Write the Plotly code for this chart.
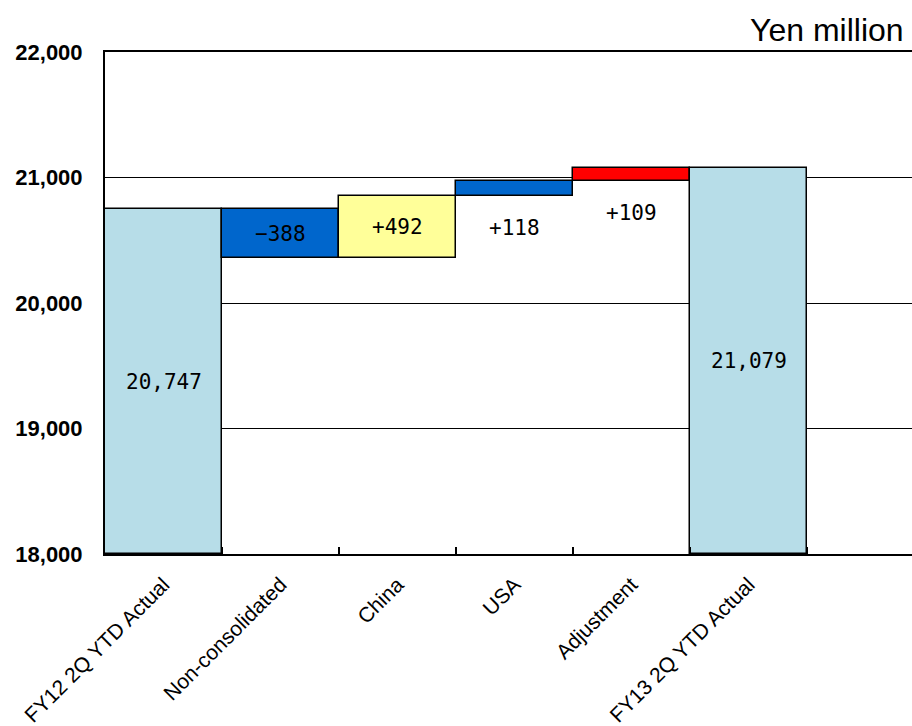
import plotly.graph_objects as go

categories = ["FY12 2Q YTD Actual", "Non-consolidated", "China", "USA", "Adjustment", "FY13 2Q YTD Actual"]
values = [20747, -388, 492, 118, 109, 21079]
is_total = [True, False, False, False, False, True]
labels = ["20,747", "\u2212388", "+492", "+118", "+109", "21,079"]
colors = ["#b7dde8", "#0066cc", "#ffff99", "#0066cc", "#ff0000", "#b7dde8"]
label_inside = [True, True, True, False, False, True]
y_ticks = [18000, 19000, 20000, 21000, 22000]
unit_label = "Yen million"
axis_min = 18000

bases, heights = [], []
running = 0
for v, tot in zip(values, is_total):
    if tot:
        bases.append(axis_min)
        heights.append(v - axis_min)
        running = v
    else:
        lo = min(running, running + v)
        bases.append(lo)
        heights.append(abs(v))
        running += v

fig = go.Figure()
fig.add_trace(go.Bar(
    x=categories, y=heights, base=bases, width=1.0,
    marker=dict(color=colors, line=dict(color="black", width=1.5)),
    hoverinfo="skip",
))

for i, (c, b, h, lab, ins) in enumerate(zip(categories, bases, heights, labels, label_inside)):
    if ins:
        fig.add_annotation(x=c, y=b + h / 2, text=lab, showarrow=False,
                           font=dict(family="DejaVu Sans Mono", size=21, color="black"))
    else:
        fig.add_annotation(x=c, y=b, text=lab, showarrow=False, yshift=-32,
                           font=dict(family="DejaVu Sans Mono", size=21, color="black"))

fig.add_annotation(xref="paper", yref="paper", x=1, y=1, xanchor="right", yanchor="bottom",
                   yshift=2, xshift=-6, text=unit_label, showarrow=False,
                   font=dict(family="Liberation Sans", size=32, color="black"))

fig.update_layout(
    width=912, height=726,
    margin=dict(l=105, r=0, t=52, b=172),
    paper_bgcolor="white", plot_bgcolor="white",
    showlegend=False,
    bargap=0,
    xaxis=dict(
        type="category", range=[-0.5, 6.397],
        tickangle=-45, tickson="boundaries", ticks="inside", ticklen=7,
        tickcolor="black", tickwidth=1.5,
        showline=True, linecolor="black", linewidth=2, mirror=True,
        showgrid=False, ticklabelstandoff=8,
        tickfont=dict(family="Liberation Sans", size=21, color="black"),
    ),
    yaxis=dict(
        range=[18000, 22000], tickvals=y_ticks, tickformat=",",
        showline=True, linecolor="black", linewidth=2,
        showgrid=True, gridcolor="black", gridwidth=1,
        zeroline=False, ticks="", ticklabelstandoff=16,
        tickfont=dict(family="Liberation Sans", size=22, color="black", weight="bold"),
    ),
)

fig.write_html("out.html")
